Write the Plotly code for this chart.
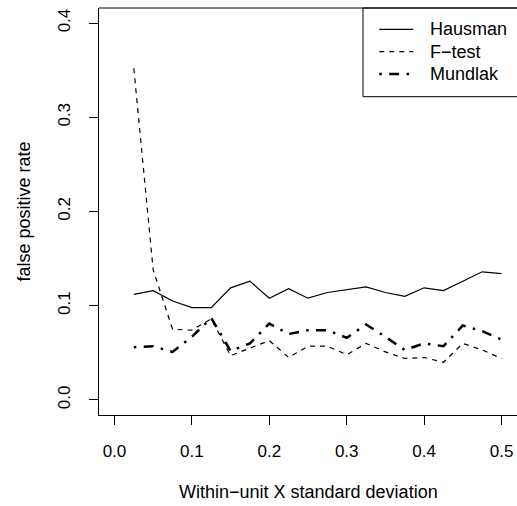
import plotly.graph_objects as go

# ---- data ----
x_sd = [0.025, 0.05, 0.075, 0.1, 0.125, 0.15, 0.175, 0.2, 0.225, 0.25,
        0.275, 0.3, 0.325, 0.35, 0.375, 0.4, 0.425, 0.45, 0.475, 0.5]
hausman = [0.112, 0.116, 0.105, 0.098, 0.098, 0.119, 0.126, 0.108, 0.118, 0.108,
           0.114, 0.117, 0.120, 0.114, 0.110, 0.119, 0.116, 0.126, 0.136, 0.134]
ftest = [0.352, 0.138, 0.075, 0.074, 0.086, 0.047, 0.055, 0.063, 0.045, 0.057,
         0.057, 0.048, 0.060, 0.051, 0.044, 0.045, 0.040, 0.060, 0.053, 0.044]
mundlak = [0.056, 0.057, 0.051, 0.067, 0.087, 0.052, 0.060, 0.081, 0.070, 0.074,
           0.074, 0.066, 0.080, 0.067, 0.053, 0.060, 0.057, 0.079, 0.073, 0.064]
series_names = ["Hausman", "F\u2212test", "Mundlak"]
x_ticks = [0.0, 0.1, 0.2, 0.3, 0.4, 0.5]
x_ticklabels = ["0.0", "0.1", "0.2", "0.3", "0.4", "0.5"]
y_ticks = [0.0, 0.1, 0.2, 0.3, 0.4]
y_ticklabels = ["0.0", "0.1", "0.2", "0.3", "0.4"]
x_title = "Within\u2212unit X standard deviation"
y_title = "false positive rate"

FONT = "Liberation Sans, Arial, Helvetica, sans-serif"
styles = [
    dict(color="black", width=1.2),
    dict(color="black", width=1.2, dash="5px,5px"),
    dict(color="black", width=2.5, dash="2.5px,7.4px,9.9px,7.4px"),
]

fig = go.Figure()
for name, ys, st in zip(series_names, [hausman, ftest, mundlak], styles):
    fig.add_trace(go.Scatter(x=x_sd, y=ys, mode="lines", name=name,
                             line=st, showlegend=False, hoverinfo="skip"))

W, H = 517, 506
ml, mr, mt, mb = 99, 0, 8, 91
pw, ph = W - ml - mr, H - mt - mb


def px_x(p):
    return (p - ml) / pw


def px_y(p):
    return (H - mb - p) / ph


axis_common = dict(
    showgrid=False, zeroline=False, showline=True, linecolor="black", linewidth=1,
    ticks="outside", ticklen=9, tickwidth=1, tickcolor="black",
    tickfont=dict(family=FONT, size=17, color="black"),
)
fig.update_xaxes(range=[-0.02, 0.52], tickvals=x_ticks, ticktext=x_ticklabels,
                 ticklabelstandoff=12, **axis_common)
fig.update_yaxes(range=[-0.016, 0.416], tickvals=y_ticks, ticktext=y_ticklabels,
                 tickangle=-90, ticklabelstandoff=12, **axis_common)

shapes = [
    # top edge of the plot box
    dict(type="line", xref="paper", yref="paper", x0=0, x1=1, y0=1, y1=1,
         line=dict(color="black", width=1)),
    # legend box
    dict(type="rect", xref="paper", yref="paper", x0=px_x(363), x1=1.02,
         y0=px_y(96.7), y1=1, line=dict(color="black", width=1)),
]
annotations = [
    dict(text=x_title, xref="paper", yref="paper", x=0.5, y=px_y(492),
         xanchor="center", yanchor="middle", showarrow=False,
         font=dict(family=FONT, size=18, color="black")),
    dict(text=y_title, xref="paper", yref="paper", x=px_x(23), y=0.5,
         xanchor="center", yanchor="middle", showarrow=False, textangle=-90,
         font=dict(family=FONT, size=18, color="black")),
]
legend_rows = [29.3, 51.7, 74.0]
for name, st, yy in zip(series_names, styles, legend_rows):
    shapes.append(dict(type="line", xref="paper", yref="paper",
                       x0=px_x(379.3), x1=px_x(413.3), y0=px_y(yy), y1=px_y(yy),
                       line=st))
    annotations.append(dict(text=name, xref="paper", yref="paper", x=px_x(428),
                            y=px_y(yy), xanchor="left", yanchor="middle",
                            showarrow=False,
                            font=dict(family=FONT, size=18, color="black")))

fig.update_layout(
    width=W, height=H,
    margin=dict(l=ml, r=mr, t=mt, b=mb, pad=0),
    paper_bgcolor="white", plot_bgcolor="white",
    shapes=shapes, annotations=annotations, showlegend=False,
    hovermode=False,
)

fig.write_html("out.html",
               config={"displayModeBar": False, "staticPlot": True},
               post_script="document.body.style.margin='0';"
                           "document.body.style.overflow='hidden';")
